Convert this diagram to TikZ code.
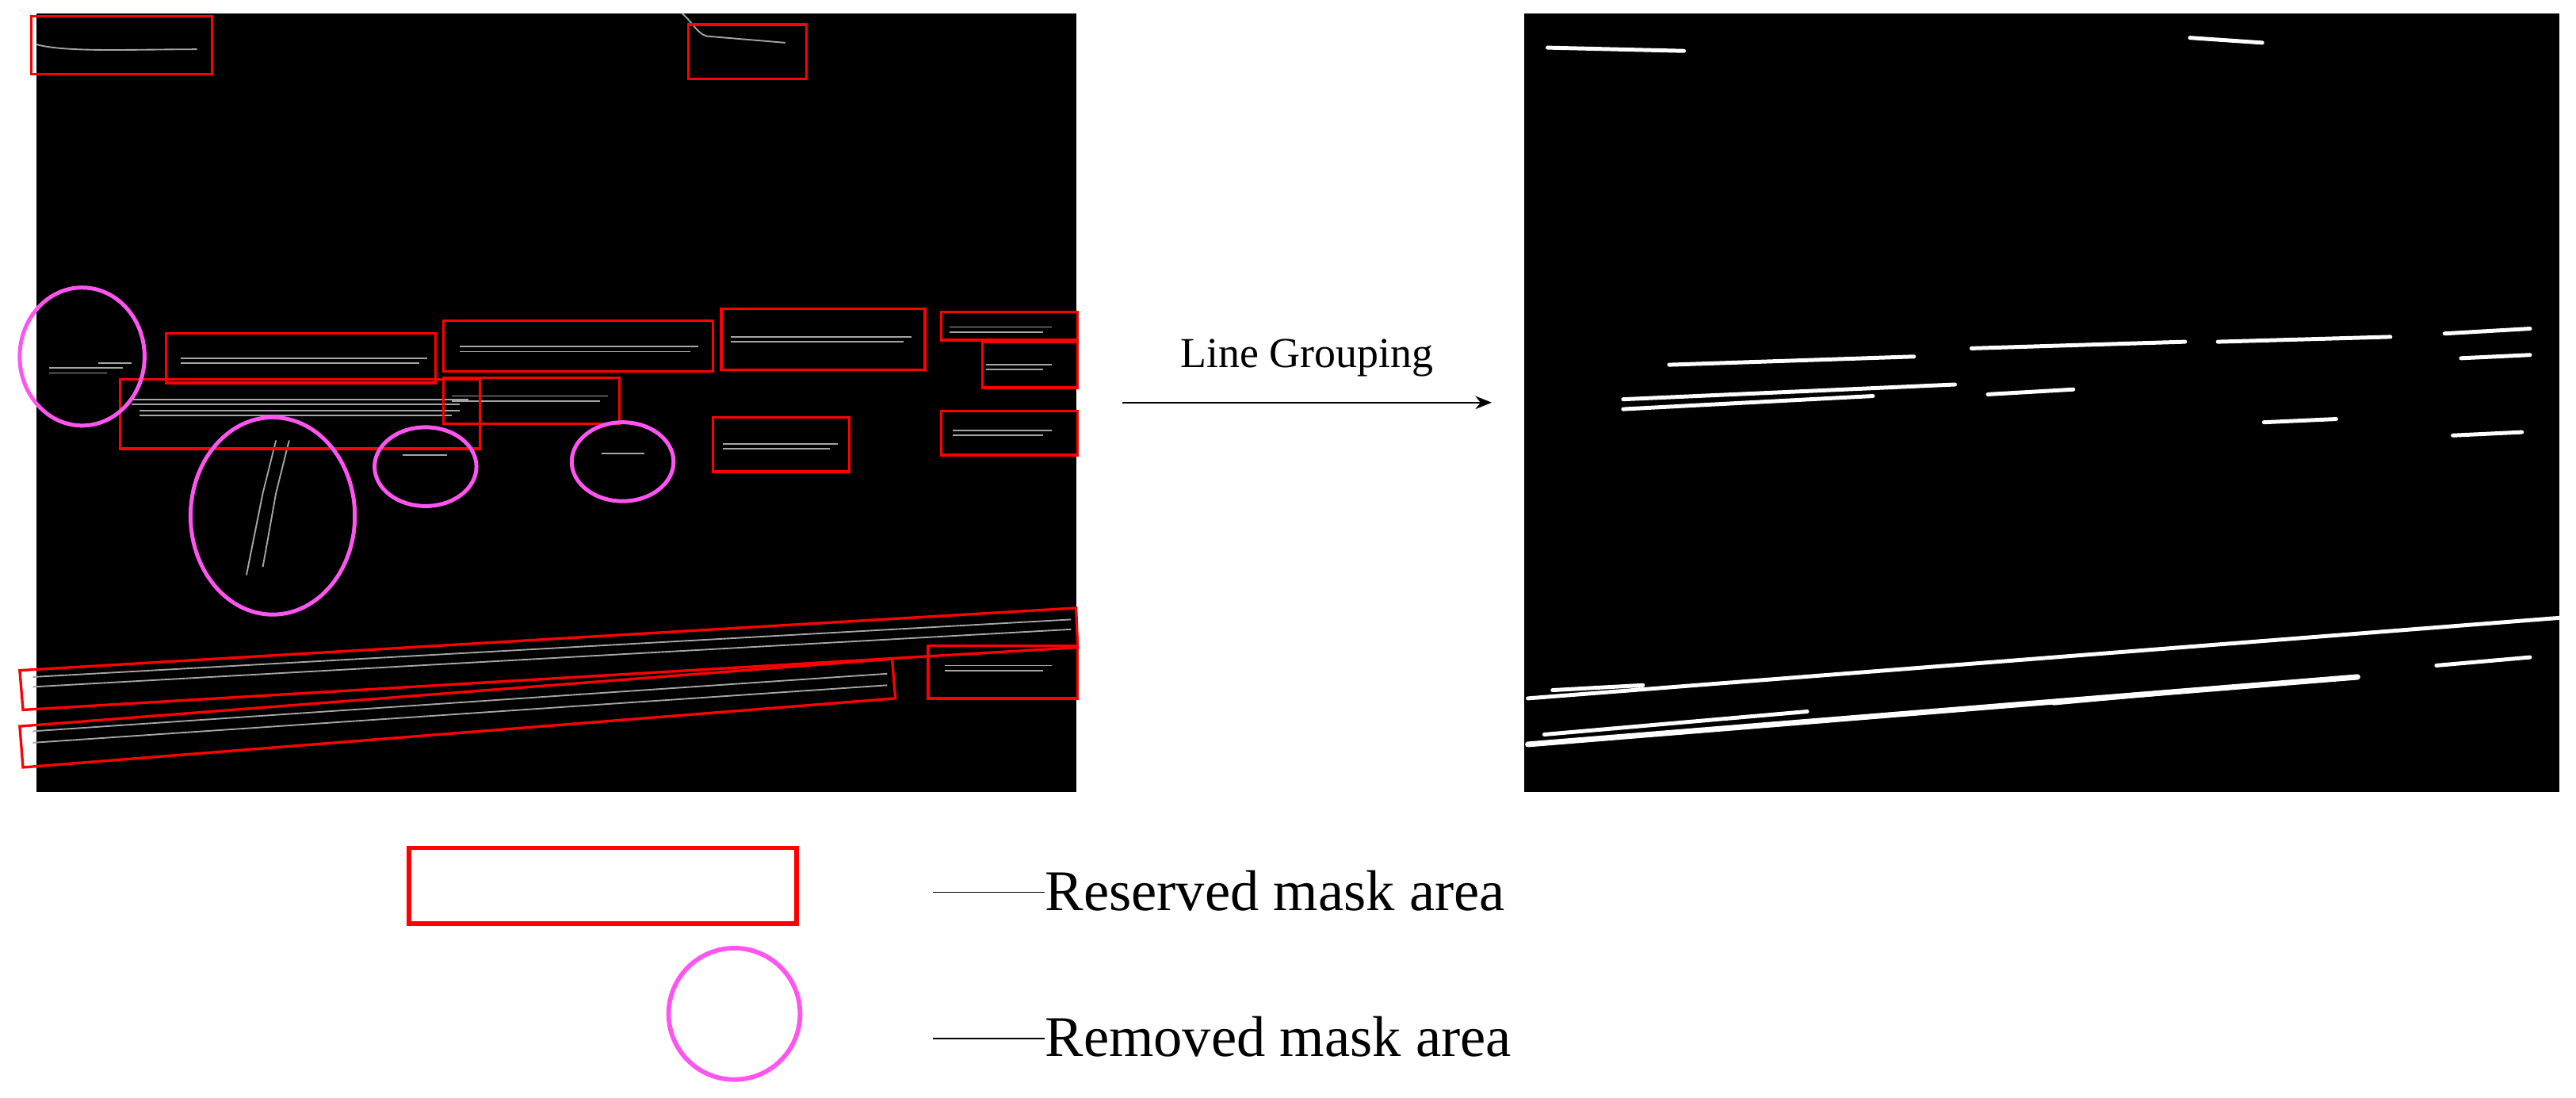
\documentclass[tikz,border=0pt]{standalone}
\usepackage{fontspec}
\setmainfont{Liberation Serif}
\usetikzlibrary{arrows.meta}
\definecolor{mag}{HTML}{FF55F0}
\begin{document}
\begin{tikzpicture}[x=1pt,y=-1pt,
  img/.style={fill=black,draw=none},
  red box/.style={draw=red,line width=1.6pt},
  rm/.style={draw=mag,line width=2.4pt},
  wl/.style={draw=white,line width=2.4pt,line cap=round},
  gl/.style={draw=gray!70!white,line width=0.9pt},
  lab/.style={font=\fontsize{35}{40}\selectfont,inner sep=0pt}]
\useasboundingbox (0,0) rectangle (1568,668);
% images
\node[img,minimum width=633pt,minimum height=474pt,inner sep=0pt] (L) at (338.5,245) {};
\node[img,minimum width=630pt,minimum height=474pt,inner sep=0pt] (R) at (1243,245) {};
% left image contents
\draw[gl] (22,27) .. controls (40,32) and (80,30) .. (120,30);
\draw[gl] (415,8) .. controls (422,14) and (424,20) .. (430,22) -- (478,26);
\foreach \a/\b/\y in {110/260/218,280/425/211,445/555/205,578/640/199,600/640/222,80/285/243,85/280/250,275/370/241,440/510/270,580/640/262,575/640/405,30/70/224,60/80/221}
  \draw[gl] (\a,\y) -- (\b,\y) (\a,\y+3) -- (\b-5,\y+3);
\draw[gl] (20,412) -- (652,377) (20,418) -- (652,383);
\draw[gl] (20,445) -- (540,410) (20,452) -- (540,417);
\draw[gl] (150,350) -- (160,300) -- (168,268) (160,345) -- (168,300) -- (176,268);
\draw[gl] (245,277) -- (272,277) (366,276) -- (392,276);
% red boxes
\draw[red box] (19,10) rectangle (129,45);
\draw[red box] (419,15) rectangle (491,48);
\draw[red box] (101,203) rectangle (265,233);
\draw[red box] (270,195) rectangle (434,226);
\draw[red box] (439,188) rectangle (563,225);
\draw[red box] (573,190) rectangle (656,207);
\draw[red box] (598,208) rectangle (656,236);
\draw[red box] (73,231) rectangle (292,273);
\draw[red box] (270,230) rectangle (377,258);
\draw[red box] (434,254) rectangle (517,287);
\draw[red box] (573,250) rectangle (656,277);
\draw[red box] (565,393) rectangle (656,425);
\draw[red box] (12,408) -- (655,370) -- (656,394) -- (14,432) -- cycle;
\draw[red box] (12,442) -- (543,401) -- (545,425) -- (14,467) -- cycle;
% removed ellipses
\draw[rm] (50,217) ellipse [x radius=38,y radius=42];
\draw[rm] (166,314) ellipse [x radius=50,y radius=60];
\draw[rm] (259,284) ellipse [x radius=31,y radius=24];
\draw[rm] (379,281) ellipse [x radius=31,y radius=24];
% right image lines
\draw[wl] (942,29) -- (1025,31) (1333,23) -- (1377,26)
  (1016,222) -- (1165,217) (1200,212) -- (1330,208) (1350,208) -- (1455,205)
  (1488,203) -- (1540,200) (1498,218) -- (1540,216)
  (988,243) -- (1190,234) (988,249) -- (1140,241) (1210,240) -- (1262,237)
  (1378,257) -- (1422,255) (1493,265) -- (1535,263)
  (930,425) -- (1558,376) (945,420) -- (1000,417) (1483,405) -- (1540,400);
\draw[wl,line width=3.4pt] (930,453) -- (1435,412);
\draw[wl] (940,447) -- (1100,433) (1250,428) -- (1360,418);
% arrow
\coordinate (a1) at (683,245); \coordinate (a2) at (908,245);
\draw[-{Stealth[length=10pt,width=8pt]},line width=0.9pt] (a1) -- (a2) node[midway,above=12pt,font=\fontsize{26}{30}\selectfont] {Line Grouping};
% legend
\draw[draw=red,line width=2.8pt] (249,516) rectangle (485,562);
\draw[rm,line width=2.8pt] (447,617) circle (40);
\coordinate (l1) at (568,543); \coordinate (l2) at (636,543);
\coordinate (m1) at (568,632); \coordinate (m2) at (636,632);
\draw[line width=0.8pt] (l1) -- (l2);
\draw[line width=0.8pt] (m1) -- (m2);
\node[lab,anchor=base west] (t1) at (636,554) {Reserved mask area};
\node[lab,anchor=base west] (t2) at (636,643) {Removed mask area};
\end{tikzpicture}
\end{document}
